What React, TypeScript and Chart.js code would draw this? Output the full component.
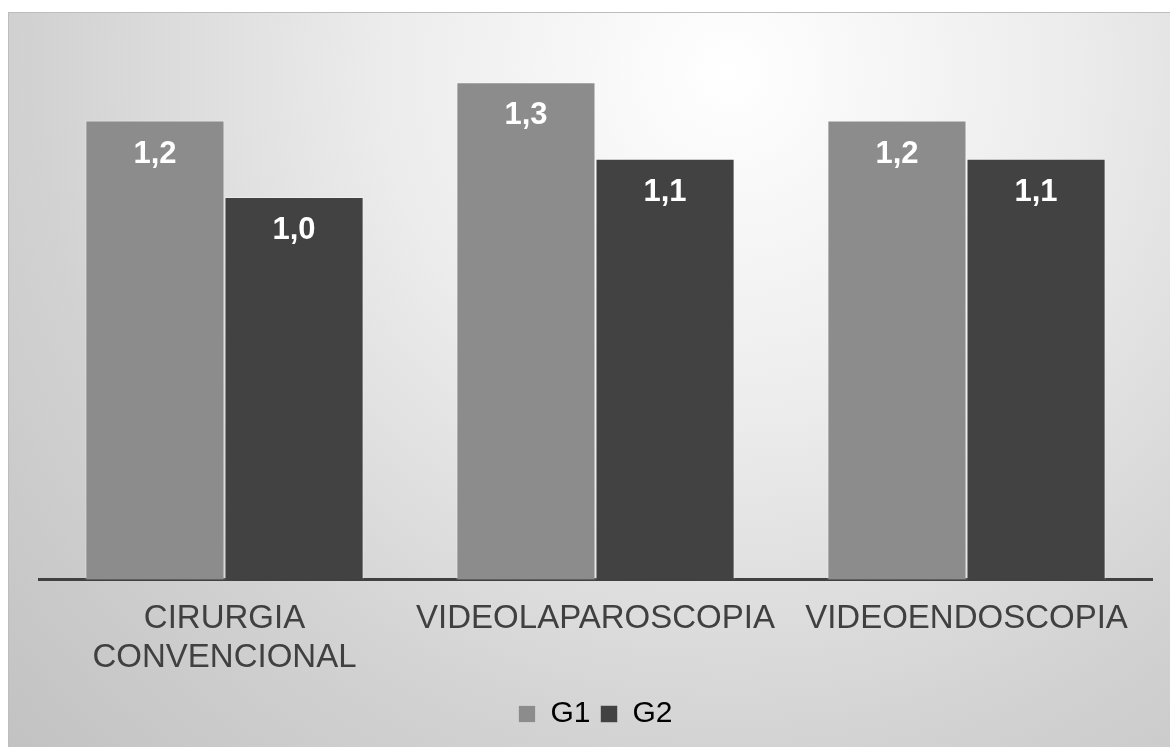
import React, { useEffect, useRef } from "react";
import { Chart, registerables } from "chart.js";

Chart.register(...registerables);

const categories: string[][] = [["CIRURGIA", "CONVENCIONAL"], ["VIDEOLAPAROSCOPIA"], ["VIDEOENDOSCOPIA"]];
const seriesNames = ["G1", "G2"];
const g1Values = [1.2, 1.3, 1.2];
const g2Values = [1.0, 1.1, 1.1];
const yMax = 1.4;

const FONT = "'Liberation Sans', Arial, sans-serif";

const valueLabels = {
  id: "valueLabels",
  afterDatasetsDraw(chart: any) {
    const ctx = chart.ctx;
    ctx.save();
    ctx.font = `bold 31px ${FONT}`;
    ctx.fillStyle = "#ffffff";
    ctx.textAlign = "center";
    ctx.textBaseline = "alphabetic";
    chart.data.datasets.forEach((ds: any, di: number) => {
      const meta = chart.getDatasetMeta(di);
      meta.data.forEach((bar: any, i: number) => {
        const v = ds.data[i] as number;
        ctx.fillText(v.toFixed(1).replace(".", ","), bar.x, bar.y + 42);
      });
    });
    ctx.restore();
  },
};

export default function App() {
  const ref = useRef<HTMLCanvasElement | null>(null);
  useEffect(() => {
    if (!ref.current) return;
    const chart = new Chart(ref.current, {
      type: "bar",
      data: {
        labels: categories,
        datasets: [
          {
            label: seriesNames[0],
            data: g1Values,
            backgroundColor: "#8c8c8c",
            borderColor: "rgba(255,255,255,0.35)",
            borderWidth: 1,
            categoryPercentage: 0.75,
            barPercentage: 1.0,
          },
          {
            label: seriesNames[1],
            data: g2Values,
            backgroundColor: "#424242",
            borderColor: "rgba(255,255,255,0.35)",
            borderWidth: 1,
            categoryPercentage: 0.75,
            barPercentage: 1.0,
          },
        ],
      },
      options: {
        animation: false,
        responsive: false,
        layout: { padding: { left: 30, right: 18, top: 31, bottom: 8 } },
        scales: {
          x: {
            grid: { display: false },
            border: { display: true, color: "#404040", width: 3 },
            ticks: {
              color: "#404040",
              font: { family: FONT, size: 33, lineHeight: 1.2 },
              padding: 11,
              maxRotation: 0,
              autoSkip: false,
            },
          },
          y: { display: false, min: 0, max: yMax },
        },
        plugins: {
          legend: {
            position: "bottom",
            labels: {
              color: "#000000",
              font: { family: FONT, size: 30 },
              boxWidth: 17,
              boxHeight: 17,
              padding: 10,
            },
          },
          tooltip: { enabled: false },
        },
      },
      plugins: [valueLabels],
    });
    return () => chart.destroy();
  }, []);
  return (
    <div
      style={{
        position: "fixed",
        left: 8,
        top: 12,
        width: 1162,
        height: 735,
        boxSizing: "border-box",
        borderTop: "1px solid #bdbdbd",
        borderLeft: "1px solid #bdbdbd",
        background: "radial-gradient(circle at 62% 8%, #ffffff 0%, #ececec 35%, #d2d2d2 70%, #c2c2c2 100%)",
      }}
    >
      <canvas ref={ref} width={1161} height={734} style={{ display: "block" }} />
    </div>
  );
}
